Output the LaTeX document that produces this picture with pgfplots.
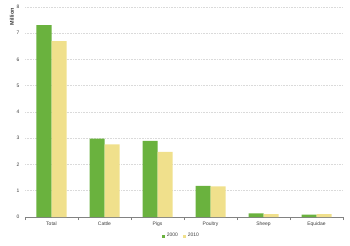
\documentclass[border=0pt]{standalone}
\usepackage{pgfplots}
\pgfplotsset{compat=1.18}
\usepackage{fontspec}
\setmainfont{Liberation Sans}
\definecolor{cgreen}{RGB}{106,178,62}
\definecolor{cyellow}{RGB}{240,224,140}
\definecolor{cgrid}{RGB}{218,218,218}
\definecolor{caxis}{RGB}{130,130,130}
\definecolor{ctext}{RGB}{60,60,60}
\begin{document}
\begin{tikzpicture}
\begin{axis}[
  at={(0,0)}, anchor=south west,
  scale only axis, width=318bp, height=210bp,
  xmin=-0.5, xmax=5.5, ymin=0, ymax=8,
  ybar=0pt, bar width=15bp,
  xtick={0,1,2,3,4,5},
  xticklabels={Total,Cattle,Pigs,Poultry,Sheep,Equidae},
  minor xtick={-0.5,0.5,1.5,2.5,3.5,4.5,5.5},
  major tick length=0pt, minor tick length=3bp,
  tick align=outside,
  minor tick style={draw=caxis, thin},
  ytick={0,1,...,8},
  ytick style={draw=none},
  axis x line*=bottom, axis y line*=left,
  x axis line style={-, draw=caxis, thick},
  y axis line style={draw=none},
  ymajorgrids, grid style={dash pattern=on 1bp off 0.6bp, cgrid, line width=0.6pt},
  tick label style={font=\fontsize{5}{6}\selectfont, text=ctext},
  yticklabel style={xshift=-2bp},
  xticklabel style={yshift=-1.5bp},
  /pgf/number format/assume math mode=true,
  legend style={at={([yshift=-19bp]axis cs:2.45,0)}, anchor=center, draw=none, fill=none,
    font=\fontsize{5}{6}\selectfont, text=ctext, legend columns=2,
    /tikz/every even column/.append style={column sep=3bp}},
  legend image code/.code={\fill[#1] (0bp,-1.5bp) rectangle (3bp,1.5bp);},
]
\addplot[fill=cgreen, draw=none] coordinates {(0,7.31) (1,2.99) (2,2.90) (3,1.19) (4,0.14) (5,0.09)};
\addplot[fill=cyellow, draw=none] coordinates {(0,6.70) (1,2.77) (2,2.48) (3,1.17) (4,0.11) (5,0.11)};
\legend{2000,2010}
\end{axis}
\node[rotate=90, anchor=east, inner sep=0pt, font=\bfseries\fontsize{5.5}{6}\selectfont, text=ctext] at (-13bp,209bp) {Million};
\path[use as bounding box] (-25bp,-29bp) rectangle (325bp,217bp);
\end{tikzpicture}
\end{document}
